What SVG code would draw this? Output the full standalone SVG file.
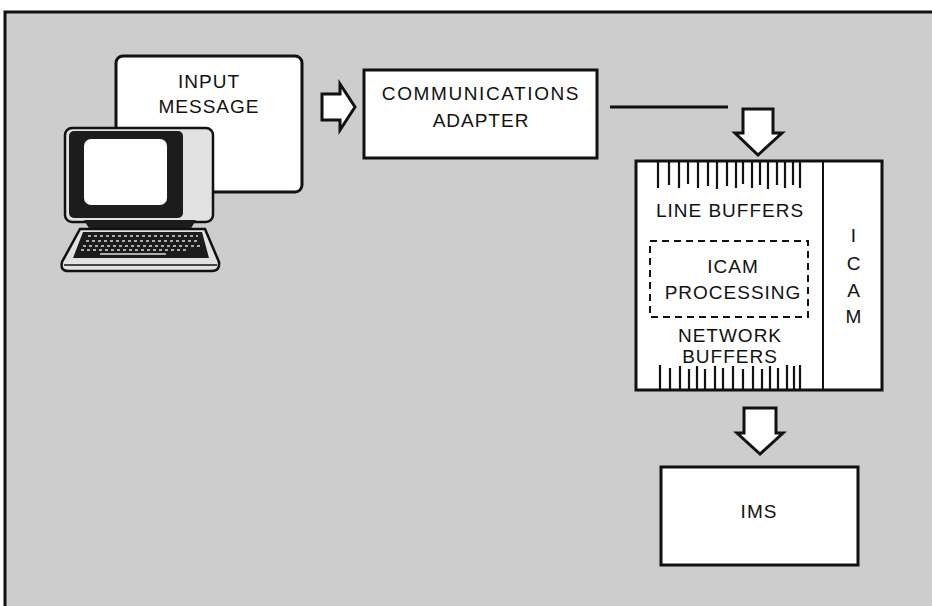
<svg xmlns="http://www.w3.org/2000/svg" width="932" height="606" viewBox="0 0 932 606">
  <defs>
    <style>
      .box { fill: #ffffff; stroke: #111111; stroke-width: 3; }
      .lbl { font-family: "Liberation Sans", Arial, sans-serif; font-size: 19px; fill: #111111; text-anchor: middle; letter-spacing: 1px; }
      .hollow { fill: #ffffff; stroke: #111111; stroke-width: 3; stroke-linejoin: miter; }
      .tick { stroke: #111111; stroke-width: 2.2; }
      .key { stroke: #dcdcdc; stroke-width: 1.4; stroke-dasharray: 3 3; }
    </style>
  </defs>

  <!-- page and shaded panel -->
  <rect x="0" y="0" width="932" height="606" fill="#ffffff"/>
  <rect x="6" y="12" width="926" height="594" fill="#cdcdcd"/>
  <path d="M5,606 L5,12 L932,12" fill="none" stroke="#111111" stroke-width="3"/>

  <!-- input message card -->
  <g id="input-message">
    <rect class="box" x="116" y="56" width="186" height="136" rx="7"/>
    <text class="lbl" x="209" y="88">INPUT</text>
    <text class="lbl" x="209" y="113">MESSAGE</text>
  </g>

  <!-- terminal -->
  <g id="terminal">
    <!-- monitor housing -->
    <rect x="65" y="128" width="148" height="94" rx="7" fill="#e2e2e2" stroke="#111111" stroke-width="2.5"/>
    <rect x="69" y="131" width="114" height="87" rx="5" fill="#1c1c1c"/>
    <rect x="84" y="139" width="83" height="66" rx="7" fill="#ffffff"/>
    <!-- neck -->
    <path d="M84,220 L196,220 L190,230 L90,230 Z" fill="#1c1c1c"/>
    <!-- keyboard housing -->
    <path d="M80,229 L205,229 L219,262 Q220,271 212,271 L68,271 Q60,271 62,262 Z" fill="#e2e2e2" stroke="#111111" stroke-width="2.5"/>
    <path d="M83,232 L202,232 L209,258 L73,258 Z" fill="#1c1c1c"/>
    <line x1="64" y1="265" x2="217" y2="265" stroke="#111111" stroke-width="1.5"/>
    <!-- keys -->
    <line class="key" x1="88" y1="236" x2="198" y2="236"/>
    <line class="key" x1="86" y1="241" x2="200" y2="241"/>
    <line class="key" x1="83" y1="246" x2="202" y2="246"/>
    <line class="key" x1="81" y1="250" x2="186" y2="250"/>
    <line x1="100" y1="254" x2="166" y2="254" stroke="#dcdcdc" stroke-width="1.6"/>
  </g>

  <!-- communications adapter -->
  <g id="comm-adapter">
    <rect class="box" x="364" y="70" width="233" height="88"/>
    <text class="lbl" x="481" y="100" style="letter-spacing:1.6px">COMMUNICATIONS</text>
    <text class="lbl" x="481" y="127">ADAPTER</text>
  </g>

  <!-- ICAM block -->
  <g id="icam">
    <rect class="box" x="636" y="161" width="246" height="229"/>
    <line x1="823" y1="161" x2="823" y2="390" stroke="#111111" stroke-width="2"/>
    <!-- line buffer slots -->
    <g class="tick">
      <line x1="658" y1="162" x2="658" y2="188"/>
      <line x1="669" y1="162" x2="669" y2="185"/>
      <line x1="679" y1="162" x2="679" y2="188"/>
      <line x1="688" y1="162" x2="688" y2="184"/>
      <line x1="698" y1="162" x2="698" y2="188"/>
      <line x1="708" y1="162" x2="708" y2="186"/>
      <line x1="717" y1="162" x2="717" y2="189"/>
      <line x1="727" y1="162" x2="727" y2="186"/>
      <line x1="736" y1="162" x2="736" y2="188"/>
      <line x1="743" y1="162" x2="743" y2="184"/>
      <line x1="752" y1="162" x2="752" y2="188"/>
      <line x1="760" y1="162" x2="760" y2="185"/>
      <line x1="768" y1="162" x2="768" y2="189"/>
      <line x1="777" y1="162" x2="777" y2="185"/>
      <line x1="785" y1="162" x2="785" y2="188"/>
      <line x1="793" y1="162" x2="793" y2="185"/>
      <line x1="800" y1="162" x2="800" y2="188"/>
    </g>
    <text class="lbl" x="730" y="217">LINE BUFFERS</text>
    <rect x="650" y="241" width="158" height="76" fill="none" stroke="#111111" stroke-width="2" stroke-dasharray="7 5"/>
    <text class="lbl" x="733" y="273">ICAM</text>
    <text class="lbl" x="733" y="299">PROCESSING</text>
    <text class="lbl" x="730" y="342">NETWORK</text>
    <text class="lbl" x="730" y="363">BUFFERS</text>
    <!-- network buffer slots -->
    <g class="tick">
      <line x1="660" y1="365" x2="660" y2="389"/>
      <line x1="670" y1="368" x2="670" y2="389"/>
      <line x1="680" y1="366" x2="680" y2="389"/>
      <line x1="689" y1="369" x2="689" y2="389"/>
      <line x1="697" y1="366" x2="697" y2="389"/>
      <line x1="705" y1="369" x2="705" y2="389"/>
      <line x1="715" y1="366" x2="715" y2="389"/>
      <line x1="723" y1="368" x2="723" y2="389"/>
      <line x1="733" y1="366" x2="733" y2="389"/>
      <line x1="743" y1="369" x2="743" y2="389"/>
      <line x1="753" y1="366" x2="753" y2="389"/>
      <line x1="762" y1="369" x2="762" y2="389"/>
      <line x1="770" y1="366" x2="770" y2="389"/>
      <line x1="778" y1="368" x2="778" y2="389"/>
      <line x1="787" y1="365" x2="787" y2="389"/>
      <line x1="794" y1="366" x2="794" y2="389"/>
      <line x1="800" y1="365" x2="800" y2="389"/>
    </g>
    <text class="lbl" x="854" y="242">I</text>
    <text class="lbl" x="854" y="270">C</text>
    <text class="lbl" x="854" y="297">A</text>
    <text class="lbl" x="854" y="323">M</text>
  </g>

  <!-- IMS -->
  <g id="ims">
    <rect class="box" x="661" y="467" width="197" height="98"/>
    <text class="lbl" x="759" y="518">IMS</text>
  </g>

  <!-- connectors -->
  <g id="connectors">
    <path class="hollow" d="M322,94 L340,94 L340,84 L355,107 L340,130 L340,120 L322,120 Z"/>
    <line x1="610" y1="107" x2="728" y2="107" stroke="#111111" stroke-width="3"/>
    <path class="hollow" d="M743,109 L773,109 L773,133 L782,133 L758,155 L735,133 L743,133 Z"/>
    <path class="hollow" d="M744,408 L776,408 L776,433 L783,433 L760,454 L737,433 L744,433 Z"/>
  </g>
</svg>
